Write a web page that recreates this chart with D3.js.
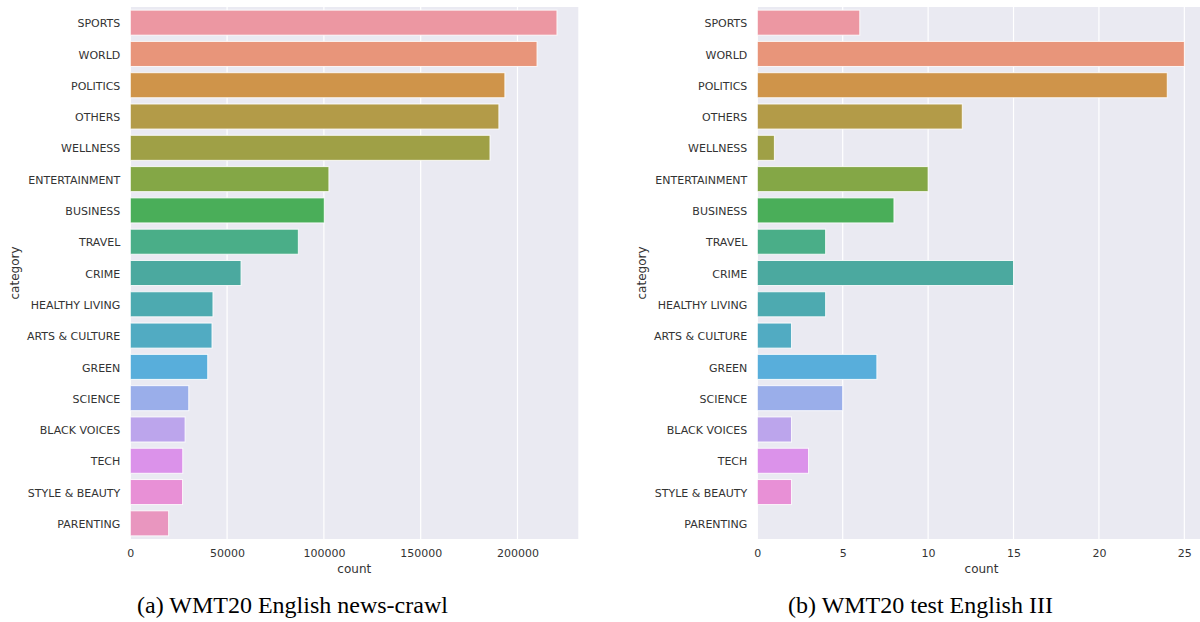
<!DOCTYPE html>
<html>
<head>
<meta charset="utf-8">
<script src="https://cdn.jsdelivr.net/npm/d3@7"></script>
<style>
  body { margin: 0; background: #fff; }
  svg { display: block; }
  .tick text { font-family: "DejaVu Sans", sans-serif; font-size: 11px; fill: #333; }
  .lbl { font-family: "DejaVu Sans", sans-serif; font-size: 12px; fill: #333; }
  .cap { font-family: "Liberation Serif", "Times New Roman", serif; font-size: 24px; fill: #000; }
</style>
</head>
<body>
<svg id="chart" width="1200" height="622"></svg>
<script>
  var categories = ['SPORTS', 'WORLD', 'POLITICS', 'OTHERS', 'WELLNESS', 'ENTERTAINMENT',
    'BUSINESS', 'TRAVEL', 'CRIME', 'HEALTHY LIVING', 'ARTS & CULTURE', 'GREEN',
    'SCIENCE', 'BLACK VOICES', 'TECH', 'STYLE & BEAUTY', 'PARENTING'];

  var newsCrawl = [220400, 210100, 193500, 190400, 185800, 102600, 100200, 86800,
    57200, 42700, 42200, 40000, 30200, 28300, 27100, 27000, 19800];

  var testSet = [6, 25, 24, 12, 1, 10, 8, 4, 15, 4, 2, 7, 5, 2, 3, 2, 0];

  var palette = ['#ec97a2', '#e8957a', '#cf944a', '#b39b48', '#9fa046', '#84a746',
    '#4aae59', '#4aae88', '#4ba99f', '#4daab0', '#51abc2', '#58aedb',
    '#9aaeea', '#bca5ec', '#db92ea', '#e890d6', '#e996bf'];

  var captions = ['(a) WMT20 English news-crawl', '(b) WMT20 test English III'];

  var svg = d3.select('#chart');

  function drawPanel(values, left, right, capX, caption) {
    var top = 7, bottom = 539;
    var g = svg.append('g');

    var x = d3.scaleLinear()
      .domain([0, d3.max(values) * 1.05])
      .range([left, right]);

    var y = d3.scaleBand()
      .domain(categories)
      .range([top, bottom])
      .paddingInner(0.2)
      .paddingOuter(0.1);

    g.append('rect')
      .attr('x', left).attr('y', top)
      .attr('width', right - left).attr('height', bottom - top)
      .attr('fill', '#eaeaf2');

    var ticks = x.ticks(5);
    g.selectAll('.grid').data(ticks).enter().append('line')
      .attr('x1', function(d) { return x(d); })
      .attr('x2', function(d) { return x(d); })
      .attr('y1', top).attr('y2', bottom)
      .attr('stroke', '#fff').attr('stroke-width', 1.2);

    g.selectAll('.bar').data(values).enter().append('rect')
      .attr('x', x(0))
      .attr('y', function(d, i) { return y(categories[i]); })
      .attr('width', function(d) { return x(d) - x(0); })
      .attr('height', y.bandwidth())
      .attr('fill', function(d, i) { return palette[i]; })
      .attr('stroke', function(d) { return d > 0 ? 'rgba(255,255,255,0.85)' : 'none'; })
      .attr('stroke-width', 1);

    var xAxis = g.append('g')
      .attr('transform', 'translate(0,' + bottom + ')')
      .call(d3.axisBottom(x).tickValues(ticks).tickFormat(d3.format('d')).tickSize(0).tickPadding(10));
    xAxis.select('.domain').remove();

    var yAxis = g.append('g')
      .attr('transform', 'translate(' + left + ',0)')
      .call(d3.axisLeft(y).tickSize(0).tickPadding(10));
    yAxis.select('.domain').remove();
    yAxis.selectAll('.tick text').attr('dy', '0.42em');

    g.append('text').attr('class', 'lbl')
      .attr('x', (left + right) / 2).attr('y', 573)
      .attr('text-anchor', 'middle').text('count');

    g.append('text').attr('class', 'lbl')
      .attr('transform', 'translate(' + (left - 111) + ',' + ((top + bottom) / 2) + ') rotate(-90)')
      .attr('text-anchor', 'middle').text('category');

    g.append('text').attr('class', 'cap')
      .attr('x', capX).attr('y', 613)
      .attr('text-anchor', 'middle').text(caption);
  }

  drawPanel(newsCrawl, 130.3, 578.3, 292.5, captions[0]);
  drawPanel(testSet, 757.3, 1205.7, 920.5, captions[1]);
</script>
</body>
</html>
